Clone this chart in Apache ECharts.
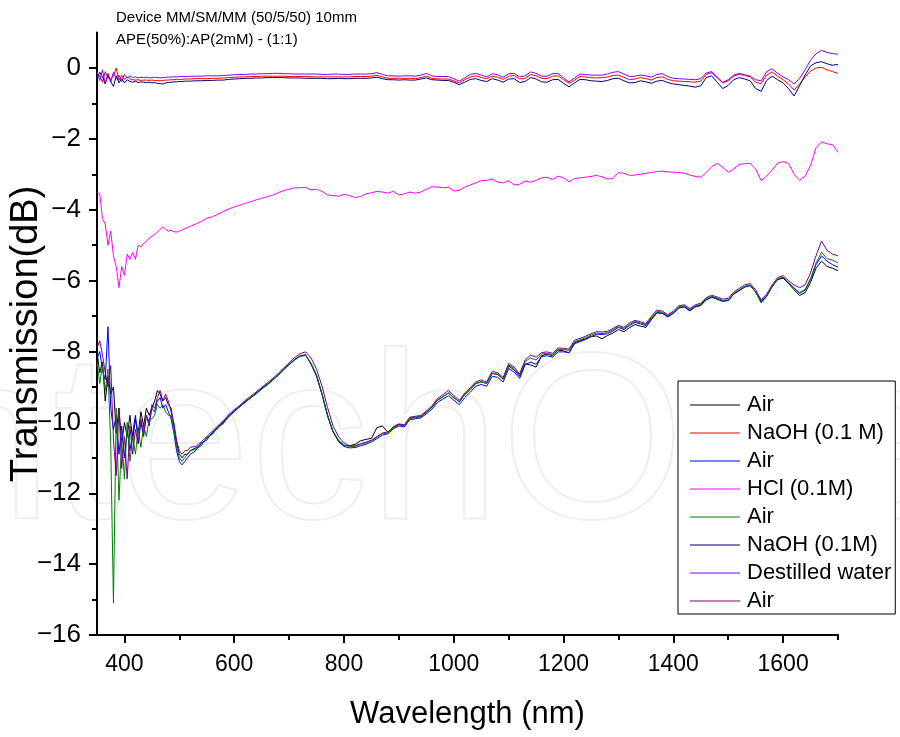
<!DOCTYPE html>
<html>
<head>
<meta charset="utf-8">
<script src="https://cdn.jsdelivr.net/npm/echarts@6/dist/echarts.min.js"></script>
<style>html,body{margin:0;padding:0;background:#fff}#c{width:900px;height:737px}</style>
</head>
<body>
<div id="c"></div>
<script>
const wavelength = [350,355,360,365,370,375,380,385,390,395,400,405,410,415,420,425,430,435,440,445,450,455,460,465,470,475,480,485,490,495,500,505,510,515,520,
530,540,550,560,570,580,590,600,610,620,630,640,650,660,670,680,690,700,710,720,730,740,750,760,770,780,790,800,810,820,830,840,850,860,870,880,890,900,910,920,
930,940,950,960,970,980,990,1000,1010,1020,1030,1040,1050,1060,1070,1080,1090,1100,1110,1120,1130,1140,1150,1160,1170,1180,1190,1200,1210,1220,
1230,1240,1250,1260,1270,1280,1290,1300,1310,1320,1330,1340,1350,1360,1370,1380,1390,1400,1410,1420,1430,1440,1450,1460,1470,1480,1490,1500,1510,1520,
1530,1540,1550,1560,1570,1580,1590,1600,1610,1620,1630,1640,1650,1660,1670,1680,1690,1700];

const air1 = [-8.0,-8.6,-8.3,-9.4,-8.7,-9.2,-9.0,-10.3,-9.6,-10.6,-10.0,-10.4,-9.8,-10.5,-9.9,-10.3,-9.7,-10.1,-9.6,-9.8,-9.6,-9.4,-9.1,-9.2,-9.4,-9.3,-9.5,-9.6,-10.1,-10.6,-10.9,-11.0,-10.9,-10.9,-10.8,
-10.72,-10.62,-10.44,-10.33,-10.12,-10.02,-9.80,-9.70,-9.54,-9.43,
-9.29,-9.19,-9.03,-8.94,-8.79,-8.67,-8.49,-8.37,-8.23,-8.13,
-8.10,-8.36,-8.70,-9.22,-9.82,-10.27,-10.52,-10.65,-10.66,-10.62,
-10.52,-10.48,-10.45,-10.15,-10.10,-10.28,-10.14,-10.06,-10.09,-9.88,
-9.86,-9.84,-9.72,-9.58,-9.38,-9.28,-9.17,-9.30,-9.42,-9.22,
-9.07,-8.90,-8.85,-8.90,-8.62,-8.65,-8.78,-8.41,-8.52,-8.70,
-8.35,-8.38,-8.44,-8.12,-8.07,-8.12,-7.96,-7.98,-8.04,-7.75,
-7.70,-7.64,-7.58,-7.56,-7.64,-7.55,-7.48,-7.38,-7.44,-7.33,
-7.24,-7.28,-7.32,-7.10,-6.91,-6.92,-7.02,-6.92,-6.77,-6.74,
-6.85,-6.74,-6.70,-6.54,-6.46,-6.52,-6.58,-6.56,-6.38,-6.28,
-6.18,-6.14,-6.32,-6.58,-6.43,-6.17,-5.97,-5.93,-6.08,-6.26,
-6.42,-6.34,-6.05,-5.65,-5.45,-5.60,-5.65,-5.72];

const naoh1 = [-0.15,-0.22,-0.40,-0.10,-0.28,-0.30,-0.22,0.00,-0.35,-0.20,-0.32,-0.25,-0.31,-0.33,-0.34,-0.33,-0.35,-0.34,-0.34,-0.35,-0.34,-0.35,-0.35,-0.36,-0.35,-0.34,-0.34,-0.33,-0.33,-0.32,-0.32,-0.32,-0.31,-0.31,-0.31,
-0.30,-0.30,-0.30,-0.29,-0.29,-0.28,-0.27,-0.26,-0.25,-0.25,
-0.24,-0.24,-0.23,-0.23,-0.23,-0.23,-0.23,-0.24,-0.24,-0.24,
-0.24,-0.25,-0.25,-0.25,-0.25,-0.25,-0.25,-0.25,-0.25,-0.24,
-0.24,-0.24,-0.23,-0.21,-0.25,-0.29,-0.29,-0.29,-0.29,-0.29,
-0.30,-0.27,-0.23,-0.29,-0.31,-0.31,-0.31,-0.36,-0.42,-0.33,
-0.25,-0.22,-0.27,-0.30,-0.23,-0.26,-0.32,-0.23,-0.21,-0.31,
-0.29,-0.18,-0.22,-0.29,-0.30,-0.23,-0.22,-0.33,-0.43,-0.34,
-0.24,-0.25,-0.27,-0.28,-0.27,-0.25,-0.21,-0.20,-0.26,-0.33,
-0.31,-0.27,-0.30,-0.34,-0.27,-0.25,-0.32,-0.36,-0.37,-0.38,
-0.39,-0.40,-0.37,-0.18,-0.13,-0.28,-0.42,-0.36,-0.23,-0.18,
-0.21,-0.25,-0.40,-0.44,-0.20,-0.11,-0.23,-0.33,-0.45,-0.62,
-0.45,-0.26,-0.08,0.00,0.02,-0.05,-0.10,-0.15];

const air2 = [-8.2,-8.0,-8.5,-8.8,-7.3,-9.6,-10.2,-9.8,-10.9,-10.1,-11.0,-10.2,-10.8,-10.3,-9.8,-10.6,-10.0,-10.4,-9.8,-10.1,-9.6,-9.7,-9.4,-9.3,-9.6,-9.5,-9.7,-9.9,-10.3,-10.8,-11.1,-11.2,-11.1,-11.0,-10.9,
-10.80,-10.58,-10.50,-10.28,-10.18,-9.98,-9.85,-9.66,-9.57,-9.40,
-9.32,-9.16,-9.07,-8.92,-8.82,-8.65,-8.52,-8.36,-8.22,-8.12,
-8.09,-8.34,-8.68,-9.20,-9.80,-10.26,-10.54,-10.68,-10.72,-10.71,
-10.66,-10.62,-10.55,-10.46,-10.36,-10.32,-10.18,-10.10,-10.13,-9.92,
-9.90,-9.87,-9.76,-9.63,-9.44,-9.34,-9.25,-9.37,-9.50,-9.30,
-9.15,-8.98,-8.93,-8.98,-8.70,-8.73,-8.86,-8.48,-8.58,-8.76,
-8.37,-8.30,-8.36,-8.14,-8.12,-8.16,-8.01,-8.01,-8.03,-7.78,
-7.72,-7.66,-7.58,-7.51,-7.52,-7.50,-7.42,-7.32,-7.38,-7.27,
-7.18,-7.22,-7.27,-7.07,-6.90,-6.92,-7.02,-6.92,-6.77,-6.74,
-6.85,-6.74,-6.70,-6.54,-6.47,-6.52,-6.58,-6.56,-6.38,-6.28,
-6.18,-6.13,-6.32,-6.60,-6.44,-6.17,-5.96,-5.91,-6.06,-6.22,
-6.36,-6.27,-5.97,-5.55,-5.30,-5.45,-5.55,-5.62];

const hcl = [-3.5,-3.55,-4.25,-4.4,-5.0,-4.6,-5.3,-5.6,-6.2,-5.6,-5.85,-5.25,-5.4,-5.2,-5.4,-5.0,-5.05,-4.95,-4.9,-4.8,-4.75,-4.7,-4.63,-4.55,-4.48,-4.55,-4.6,-4.58,-4.62,-4.63,-4.6,-4.57,-4.53,-4.5,-4.47,
-4.4,-4.33,-4.24,-4.2,-4.13,-4.05,-3.98,-3.92,-3.87,-3.82,
-3.77,-3.72,-3.68,-3.63,-3.59,-3.52,-3.46,-3.42,-3.38,-3.38,
-3.37,-3.44,-3.42,-3.48,-3.58,-3.6,-3.62,-3.56,-3.6,-3.65,
-3.63,-3.55,-3.52,-3.48,-3.5,-3.53,-3.48,-3.58,-3.55,-3.5,
-3.53,-3.5,-3.42,-3.35,-3.36,-3.38,-3.36,-3.47,-3.45,-3.36,
-3.3,-3.24,-3.18,-3.17,-3.13,-3.22,-3.24,-3.18,-3.3,-3.28,
-3.19,-3.22,-3.17,-3.1,-3.08,-3.15,-3.05,-3.1,-3.21,-3.12,
-3.1,-3.08,-3.06,-3.03,-3.07,-3.13,-3.12,-2.95,-2.97,-3.03,
-3.02,-3.0,-2.97,-2.95,-2.92,-2.91,-2.93,-2.94,-2.95,-2.97,
-3.02,-3.06,-3.08,-2.95,-2.78,-2.69,-2.8,-2.94,-2.85,-2.72,
-2.7,-2.69,-2.85,-3.18,-3.05,-2.88,-2.68,-2.64,-2.69,-3.0,
-3.17,-3.05,-2.75,-2.25,-2.08,-2.14,-2.16,-2.38];

const air3 = [-8.3,-8.9,-8.4,-9.1,-8.5,-10.6,-15.1,-9.6,-12.2,-10.5,-11.6,-10.0,-11.1,-10.4,-10.9,-10.2,-10.7,-10.1,-10.4,-9.9,-9.9,-9.8,-9.5,-9.6,-9.5,-9.7,-9.8,-9.8,-10.2,-10.7,-11.0,-11.1,-11.0,-10.9,-10.8,
-10.76,-10.66,-10.42,-10.34,-10.15,-10.04,-9.83,-9.71,-9.56,-9.44,
-9.31,-9.20,-9.06,-8.95,-8.81,-8.68,-8.51,-8.38,-8.24,-8.14,
-8.11,-8.33,-8.66,-9.18,-9.78,-10.24,-10.50,-10.64,-10.68,-10.68,
-10.62,-10.58,-10.52,-10.42,-10.32,-10.30,-10.15,-10.07,-10.10,-9.88,
-9.86,-9.83,-9.71,-9.57,-9.37,-9.27,-9.17,-9.29,-9.42,-9.21,
-9.06,-8.91,-8.86,-8.90,-8.61,-8.64,-8.77,-8.38,-8.48,-8.66,
-8.28,-8.18,-8.24,-8.07,-8.05,-8.09,-7.94,-7.94,-7.97,-7.72,
-7.67,-7.61,-7.54,-7.48,-7.49,-7.47,-7.38,-7.29,-7.35,-7.24,
-7.15,-7.19,-7.24,-7.04,-6.87,-6.89,-6.99,-6.89,-6.74,-6.71,
-6.82,-6.71,-6.67,-6.51,-6.44,-6.49,-6.56,-6.54,-6.36,-6.26,
-6.16,-6.12,-6.32,-6.63,-6.45,-6.17,-5.95,-5.90,-6.05,-6.20,
-6.34,-6.25,-5.94,-5.50,-5.20,-5.38,-5.42,-5.50];

const naoh2 = [-0.30,-0.12,-0.25,-0.45,-0.20,-0.38,-0.52,-0.22,-0.42,-0.30,-0.42,-0.33,-0.38,-0.40,-0.37,-0.41,-0.39,-0.40,-0.41,-0.40,-0.42,-0.41,-0.43,-0.44,-0.45,-0.42,-0.41,-0.40,-0.39,-0.39,-0.38,-0.38,-0.37,-0.37,-0.37,
-0.36,-0.36,-0.35,-0.35,-0.34,-0.34,-0.32,-0.31,-0.30,-0.29,
-0.29,-0.28,-0.28,-0.27,-0.27,-0.27,-0.27,-0.28,-0.28,-0.28,
-0.29,-0.29,-0.29,-0.29,-0.30,-0.30,-0.29,-0.30,-0.30,-0.29,
-0.29,-0.29,-0.28,-0.26,-0.30,-0.33,-0.33,-0.34,-0.33,-0.34,
-0.34,-0.31,-0.28,-0.33,-0.34,-0.35,-0.35,-0.40,-0.47,-0.40,
-0.32,-0.30,-0.35,-0.38,-0.30,-0.34,-0.40,-0.31,-0.30,-0.41,
-0.38,-0.27,-0.31,-0.39,-0.40,-0.33,-0.32,-0.43,-0.53,-0.42,
-0.32,-0.33,-0.36,-0.37,-0.38,-0.35,-0.30,-0.29,-0.36,-0.42,
-0.41,-0.36,-0.39,-0.43,-0.37,-0.35,-0.41,-0.45,-0.47,-0.49,
-0.51,-0.54,-0.50,-0.27,-0.22,-0.40,-0.58,-0.49,-0.33,-0.27,
-0.31,-0.36,-0.58,-0.66,-0.35,-0.23,-0.33,-0.42,-0.58,-0.79,
-0.50,-0.20,0.06,0.15,0.18,0.12,0.08,0.10];

const water = [-0.10,-0.35,-0.05,-0.45,-0.15,-0.40,-0.12,-0.30,-0.20,-0.38,-0.18,-0.28,-0.22,-0.27,-0.25,-0.28,-0.26,-0.27,-0.26,-0.28,-0.27,-0.26,-0.27,-0.28,-0.27,-0.26,-0.26,-0.25,-0.25,-0.25,-0.24,-0.24,-0.24,-0.24,-0.23,
-0.23,-0.23,-0.22,-0.22,-0.22,-0.21,-0.20,-0.19,-0.18,-0.18,
-0.17,-0.17,-0.16,-0.16,-0.15,-0.15,-0.16,-0.16,-0.17,-0.17,
-0.17,-0.17,-0.17,-0.18,-0.18,-0.17,-0.17,-0.18,-0.18,-0.17,
-0.17,-0.17,-0.16,-0.13,-0.18,-0.22,-0.22,-0.23,-0.22,-0.22,
-0.23,-0.20,-0.15,-0.22,-0.24,-0.24,-0.24,-0.30,-0.37,-0.28,
-0.18,-0.15,-0.20,-0.25,-0.16,-0.19,-0.26,-0.16,-0.15,-0.25,
-0.22,-0.11,-0.15,-0.23,-0.23,-0.16,-0.15,-0.28,-0.39,-0.28,
-0.17,-0.18,-0.20,-0.20,-0.20,-0.17,-0.12,-0.10,-0.17,-0.24,
-0.23,-0.20,-0.22,-0.26,-0.18,-0.16,-0.24,-0.29,-0.30,-0.31,
-0.32,-0.33,-0.30,-0.14,-0.10,-0.25,-0.40,-0.33,-0.20,-0.15,
-0.19,-0.23,-0.33,-0.36,-0.10,-0.02,-0.15,-0.25,-0.33,-0.45,
-0.30,-0.05,0.22,0.40,0.50,0.44,0.41,0.39];

const air4 = [-7.9,-7.7,-8.1,-8.6,-9.0,-8.4,-10.5,-11.5,-9.6,-11.3,-10.4,-11.6,-10.1,-10.9,-10.2,-10.6,-9.9,-10.3,-9.8,-10.0,-9.5,-9.6,-9.3,-9.1,-9.4,-9.2,-9.4,-9.7,-10.0,-10.5,-10.8,-10.9,-10.8,-10.8,-10.7,
-10.68,-10.55,-10.40,-10.25,-10.10,-9.95,-9.78,-9.64,-9.52,-9.38,
-9.26,-9.14,-9.01,-8.89,-8.76,-8.62,-8.46,-8.32,-8.17,-8.06,
-8.01,-8.18,-8.50,-8.98,-9.58,-10.10,-10.40,-10.58,-10.66,-10.66,
-10.60,-10.56,-10.50,-10.40,-10.30,-10.27,-10.12,-10.04,-10.07,-9.85,
-9.83,-9.80,-9.68,-9.54,-9.33,-9.22,-9.10,-9.24,-9.38,-9.17,
-9.02,-8.86,-8.80,-8.86,-8.56,-8.60,-8.73,-8.34,-8.44,-8.63,
-8.24,-8.10,-8.16,-8.03,-8.01,-8.05,-7.90,-7.91,-7.93,-7.68,
-7.63,-7.57,-7.50,-7.44,-7.45,-7.43,-7.35,-7.26,-7.32,-7.20,
-7.12,-7.16,-7.21,-7.01,-6.83,-6.86,-6.96,-6.86,-6.71,-6.68,
-6.79,-6.68,-6.64,-6.48,-6.41,-6.46,-6.52,-6.50,-6.32,-6.22,
-6.12,-6.08,-6.26,-6.54,-6.38,-6.12,-5.91,-5.86,-6.00,-6.12,
-6.20,-6.12,-5.78,-5.30,-4.88,-5.15,-5.25,-5.30];

const seriesNames = ['Air#1','NaOH (0.1 M)','Air#2','HCl (0.1M)','Air#3','NaOH (0.1M)','Destilled water','Air#4'];
const seriesValues = [air1, naoh1, air2, hcl, air3, naoh2, water, air4];
const seriesColors = ['#000000','#ff0000','#0000ff','#ff00ff','#008000','#000080','#8000ff','#800080'];
const xMajorTicks = [400,600,800,1000,1200,1400,1600];
const xMinorTicks = [500,700,900,1100,1300,1500,1700];
const yMajorTicks = [-16,-14,-12,-10,-8,-6,-4,-2,0];
const yMinorTicks = [-15,-13,-11,-9,-7,-5,-3,-1];
const titleLines = ['Device MM/SM/MM (50/5/50) 10mm','APE(50%):AP(2mM) - (1:1)'];

const chart = echarts.init(document.getElementById('c'), null, {renderer:'canvas'});
const FONT = 'Liberation Sans, Arial, sans-serif';
const axisBlack = {color:'#000', width:2};

chart.setOption({
  animation:false,
  backgroundColor:'#fff',
  title:{
    text:titleLines.join('\n'), left:116, top:7, padding:0,
    textStyle:{fontFamily:FONT, fontSize:15, fontWeight:'normal', color:'#000', lineHeight:22}
  },
  graphic:[{
    type:'text', z:-10, silent:true,
    style:{text:'IntechOpen', x:-145, y:453, verticalAlign:'middle', align:'left',
      font:'237px "Liberation Sans", Arial, sans-serif', fill:'rgba(0,0,0,0)', stroke:'#efefef', lineWidth:2}
  }],
  legend:{
    orient:'vertical', left:678, top:381,
    padding:[13,4,2,12], itemGap:6, itemWidth:50, itemHeight:1.2, icon:'rect',
    borderColor:'#000', borderWidth:1, backgroundColor:'#fff',
    selectedMode:false,
    formatter:name=>name.replace(/#\d+$/,''),
    textStyle:{fontFamily:FONT, fontSize:22, color:'#000', lineHeight:21, padding:[0,0,0,2]},
    data:seriesNames
  },
  grid:{left:97, right:62, top:32.6, bottom:102, containLabel:false, outerBoundsMode:'none'},
  xAxis:[{
    type:'value', min:350, max:1700,
    name:'Wavelength (nm)', nameLocation:'middle', nameGap:64, nameMoveOverlap:false,
    nameTextStyle:{fontFamily:FONT, fontSize:31, color:'#000'},
    axisLine:{show:true, onZero:false, lineStyle:axisBlack},
    axisTick:{show:true, inside:false, length:8, lineStyle:axisBlack, customValues:xMajorTicks},
    axisLabel:{show:true, margin:18, color:'#000', fontSize:23, fontFamily:FONT,
      customValues:xMajorTicks, formatter:v=>String(v)},
    splitLine:{show:false}
  },{
    type:'value', min:350, max:1700, position:'bottom', gridIndex:0,
    axisLine:{show:false, onZero:false},
    axisTick:{show:true, inside:false, length:5, lineStyle:axisBlack, customValues:xMinorTicks},
    axisLabel:{show:false},
    splitLine:{show:false}
  }],
  yAxis:[{
    type:'value', min:-16, max:1,
    name:'Transmission(dB)', nameLocation:'middle', nameGap:51, nameMoveOverlap:false,
    nameTextStyle:{fontFamily:FONT, fontSize:38, color:'#000'},
    axisLine:{show:true, onZero:false, lineStyle:axisBlack},
    axisTick:{show:true, inside:false, length:8, lineStyle:axisBlack, customValues:yMajorTicks},
    axisLabel:{margin:16, color:'#000', fontSize:26, fontFamily:FONT, customValues:yMajorTicks,
      formatter:v=>String(v).replace('-','\u2212')},
    splitLine:{show:false}
  },{
    type:'value', min:-16, max:1, position:'left', gridIndex:0, offset:0,
    axisLine:{show:false, onZero:false},
    axisTick:{show:true, inside:false, length:5, lineStyle:axisBlack, customValues:yMinorTicks},
    axisLabel:{show:false},
    splitLine:{show:false}
  }],
  series:seriesNames.map((n,i)=>({
    name:n, type:'line', xAxisIndex:0, yAxisIndex:0,
    showSymbol:false, symbol:'none', smooth:false,
    color:seriesColors[i],
    lineStyle:{width:1, color:seriesColors[i]},
    data:wavelength.map((w,j)=>[w, seriesValues[i][j]]),
    z:2+i
  }))
});
</script>
</body>
</html>
